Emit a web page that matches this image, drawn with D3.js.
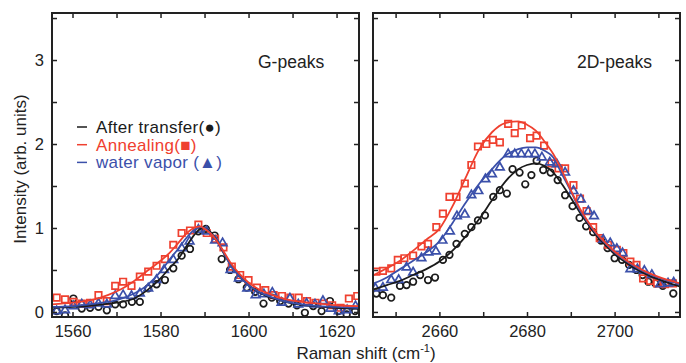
<!DOCTYPE html>
<html><head><meta charset="utf-8">
<script src="https://cdn.jsdelivr.net/npm/d3@7"></script>
<style>
html,body{margin:0;padding:0;background:#fff;}
svg text{font-family:"Liberation Sans",Arial,Helvetica,sans-serif;}
</style></head>
<body><svg id="c" width="686" height="363"></svg>
<script>
// ---------- data ----------
const seriesNames = ["After transfer", "Annealing", "water vapor"];
const legendSymbols = ["●", "■", "▲"];
const panelTitles = ["G-peaks", "2D-peaks"];

const gTicks = [1560,1570,1580,1590,1600,1610,1620];
const gTickLabels = [1560,1580,1600,1620];
const dTicks = [2650,2660,2670,2680,2690,2700,2710];
const dTickLabels = [2660,2680,2700];
const yTicks = [0,0.5,1,1.5,2,2.5,3,3.5];
const yTickLabels = [0,1,2,3];

// G-peak measured points [Raman shift, intensity]
const gBlackPts = [[1556.4,0.01],[1558.3,-0.04],[1560.2,0.16],[1562.1,0.04],[1564.0,0.05],[1565.9,0.06],[1567.8,0.02],[1569.7,0.09],[1571.5,0.09],[1573.5,0.12],[1575.3,0.12],[1577.2,0.28],[1579.1,0.33],[1581.0,0.38],[1582.9,0.52],[1584.8,0.67],[1586.7,0.75],[1588.6,0.96],[1590.3,0.99],[1592.3,0.91],[1593.9,0.63],[1595.8,0.50],[1597.7,0.39],[1599.6,0.29],[1601.5,0.24],[1603.4,0.10],[1605.3,0.17],[1607.2,0.13],[1609.1,0.10],[1611.0,0.08],[1612.8,-0.01],[1614.7,0.07],[1616.6,0.01],[1618.5,0.13],[1620.4,0.01],[1622.3,-0.03],[1624.2,0.01]];
const gRedPts = [[1556.4,0.17],[1558.3,0.15],[1560.2,0.12],[1562.1,0.10],[1564.0,0.11],[1565.9,0.20],[1567.8,0.13],[1569.7,0.31],[1571.5,0.36],[1573.4,0.31],[1575.3,0.42],[1577.2,0.48],[1579.1,0.55],[1581.0,0.63],[1582.9,0.80],[1584.8,0.94],[1586.7,0.97],[1588.6,1.04],[1590.5,0.94],[1592.4,0.87],[1594.3,0.77],[1596.2,0.54],[1598.1,0.44],[1600.0,0.38],[1601.9,0.29],[1603.8,0.26],[1605.7,0.20],[1607.6,0.19],[1609.5,0.17],[1611.4,0.17],[1613.3,0.13],[1615.2,0.11],[1617.1,0.10],[1619.0,0.08],[1620.9,0.05],[1622.8,0.16],[1624.7,0.19]];
const gBluePts = [[1556.4,0.02],[1558.3,0.03],[1560.2,0.08],[1562.1,0.10],[1564.0,0.09],[1565.9,0.11],[1567.8,0.10],[1569.7,0.20],[1571.5,0.21],[1573.4,0.20],[1575.3,0.23],[1577.2,0.29],[1579.1,0.39],[1580.8,0.51],[1582.9,0.63],[1584.8,0.77],[1586.6,0.85],[1588.6,0.99],[1590.5,0.97],[1592.4,0.86],[1594.1,0.83],[1595.9,0.51],[1597.8,0.41],[1599.7,0.29],[1601.6,0.21],[1603.5,0.22],[1605.4,0.24],[1607.5,0.12],[1609.4,0.17],[1611.3,0.10],[1613.2,0.11],[1615.1,0.10],[1616.9,0.14],[1618.6,0.05],[1620.5,0.02],[1622.4,0.03],[1624.3,0.08]];

// G-peak fitted curves
const gBlackFit = [[1555,0.05],[1560,0.06],[1565,0.08],[1570,0.11],[1574,0.16],[1577,0.26],[1580,0.40],[1582,0.52],[1584,0.63],[1586,0.79],[1588,0.94],[1589.5,1.0],[1591,0.97],[1593,0.83],[1595,0.64],[1597,0.49],[1599,0.37],[1601,0.28],[1604,0.19],[1607,0.14],[1610,0.10],[1615,0.07],[1620,0.05],[1625,0.04]];
const gRedFit = [[1555,0.09],[1560,0.11],[1565,0.15],[1568,0.20],[1571,0.27],[1574,0.37],[1577,0.49],[1580,0.61],[1582,0.70],[1584,0.82],[1586,0.94],[1588,1.01],[1589,1.02],[1590,0.99],[1592,0.90],[1594,0.75],[1596,0.58],[1598,0.45],[1600,0.35],[1602,0.28],[1605,0.21],[1608,0.16],[1612,0.12],[1616,0.10],[1620,0.08],[1625,0.07]];
const gBlueFit = [[1555,0.06],[1560,0.07],[1565,0.10],[1570,0.14],[1574,0.22],[1577,0.32],[1580,0.48],[1582,0.62],[1584,0.75],[1586,0.89],[1588,0.99],[1589,1.01],[1590,1.0],[1592,0.90],[1594,0.74],[1596,0.55],[1598,0.42],[1600,0.32],[1602,0.25],[1605,0.18],[1608,0.13],[1612,0.09],[1616,0.07],[1620,0.06],[1625,0.05]];

// 2D-peak measured points
const dBlackPts = [[2645.6,0.22],[2647.1,0.20],[2649.0,0.17],[2651.0,0.31],[2652.5,0.32],[2654.0,0.36],[2655.6,0.44],[2657.4,0.38],[2659.0,0.41],[2660.8,0.62],[2662.3,0.68],[2663.9,0.81],[2665.8,0.93],[2667.3,1.01],[2668.8,1.09],[2670.4,1.15],[2672.3,1.37],[2673.8,1.45],[2675.4,1.41],[2676.7,1.70],[2678.3,1.66],[2679.6,1.52],[2681.0,1.63],[2682.2,1.80],[2683.7,1.69],[2685.4,1.66],[2687.0,1.57],[2688.7,1.39],[2690.4,1.26],[2692.0,1.12],[2693.5,1.02],[2695.1,0.95],[2696.9,0.85],[2698.4,0.76],[2700.0,0.64],[2701.7,0.62],[2703.3,0.56],[2705.0,0.50],[2706.4,0.44],[2707.7,0.36],[2709.3,0.34],[2711.0,0.31],[2713.4,0.22]];
const dRedPts = [[2645.6,0.48],[2647.1,0.49],[2649.0,0.52],[2650.5,0.62],[2652.0,0.64],[2654.0,0.67],[2655.9,0.78],[2657.4,0.81],[2659.3,1.01],[2660.8,1.17],[2662.3,1.37],[2663.9,1.37],[2665.8,1.53],[2667.3,1.75],[2668.8,1.97],[2670.7,2.00],[2672.2,2.05],[2673.8,2.02],[2675.7,2.24],[2677.2,2.13],[2678.8,2.22],[2680.7,2.07],[2682.2,2.10],[2683.9,1.98],[2685.6,1.77],[2687.2,1.71],[2688.7,1.71],[2690.6,1.51],[2692.1,1.35],[2693.6,1.20],[2695.1,1.01],[2696.6,0.88],[2698.5,0.80],[2700.5,0.74],[2702.0,0.70],[2703.6,0.60],[2705.0,0.56],[2706.5,0.40],[2708.1,0.37],[2709.7,0.34],[2711.5,0.33],[2713.3,0.34]];
const dBluePts = [[2645.4,0.29],[2647.1,0.30],[2649.0,0.39],[2650.7,0.39],[2652.5,0.54],[2654.0,0.48],[2655.9,0.65],[2657.5,0.72],[2659.2,0.73],[2660.7,0.86],[2662.4,0.97],[2664.0,1.15],[2665.8,1.17],[2667.3,1.40],[2668.9,1.45],[2670.5,1.59],[2672.0,1.65],[2673.8,1.73],[2675.7,1.89],[2677.2,1.89],[2678.7,1.89],[2680.3,1.89],[2681.8,1.89],[2683.4,1.85],[2685.2,1.79],[2686.8,1.77],[2688.7,1.67],[2690.6,1.45],[2692.3,1.35],[2694.0,1.21],[2695.3,1.15],[2697.4,0.87],[2699.0,0.83],[2700.5,0.76],[2701.8,0.71],[2703.6,0.52],[2705.2,0.52],[2706.8,0.50],[2708.5,0.45],[2710.4,0.34],[2712.2,0.35],[2713.5,0.36]];

// 2D-peak fitted curves
const dBlackFit = [[2645,0.27],[2648,0.32],[2651,0.37],[2654,0.44],[2657,0.51],[2660,0.60],[2663,0.73],[2666,0.90],[2669,1.10],[2672,1.33],[2675,1.55],[2678,1.70],[2680,1.75],[2682,1.77],[2684,1.74],[2686,1.66],[2688,1.52],[2690,1.36],[2692,1.19],[2694,1.04],[2696,0.90],[2698,0.79],[2700,0.69],[2702,0.61],[2704,0.54],[2706,0.48],[2708,0.43],[2711,0.37],[2715,0.30]];
const dRedFit = [[2645,0.44],[2648,0.52],[2651,0.61],[2654,0.73],[2657,0.86],[2660,0.99],[2663,1.26],[2666,1.60],[2669,1.93],[2672,2.14],[2675,2.25],[2678,2.27],[2680,2.23],[2682,2.16],[2684,2.03],[2686,1.88],[2688,1.68],[2690,1.45],[2692,1.24],[2694,1.07],[2696,0.93],[2698,0.82],[2700,0.72],[2702,0.64],[2704,0.57],[2706,0.51],[2708,0.46],[2711,0.40],[2715,0.34]];
const dBlueFit = [[2645,0.34],[2648,0.41],[2651,0.51],[2654,0.61],[2657,0.71],[2660,0.84],[2663,1.06],[2666,1.30],[2669,1.52],[2672,1.70],[2675,1.86],[2678,1.94],[2680,1.96],[2682,1.96],[2684,1.92],[2686,1.84],[2688,1.64],[2690,1.44],[2692,1.22],[2694,1.06],[2696,0.92],[2698,0.81],[2700,0.71],[2702,0.63],[2704,0.56],[2706,0.50],[2708,0.45],[2711,0.39],[2715,0.33]];

// ---------- style ----------
const colors = ["#1b1b1b", "#ef402f", "#3b50aa"];
const svg = d3.select("#c");
const plotTop = 13, plotBottom = 317;
const y = d3.scaleLinear().domain([-0.06, 3.56]).range([plotBottom, plotTop]);

const panels = [
  {x0: 52, x1: 359, domain: [1555.34, 1625.1], ticks: gTicks, labels: gTickLabels, title: panelTitles[0], titleX: 258,
   pts: [gBlackPts, gRedPts, gBluePts], fits: [gBlackFit, gRedFit, gBlueFit], yLabels: true},
  {x0: 373, x1: 680, domain: [2644.84, 2714.93], ticks: dTicks, labels: dTickLabels, title: panelTitles[1], titleX: 577,
   pts: [dBlackPts, dRedPts, dBluePts], fits: [dBlackFit, dRedFit, dBlueFit], yLabels: false}
];

const sym = [d3.symbolCircle, d3.symbolSquare, d3.symbolTriangle];
const symSize = [34, 42, 32];

panels.forEach((p, i) => {
  const x = d3.scaleLinear().domain(p.domain).range([p.x0, p.x1]);
  const g = svg.append("g");
  const clipId = "clip" + i;
  svg.append("clipPath").attr("id", clipId).append("rect")
    .attr("x", p.x0).attr("y", plotTop).attr("width", p.x1 - p.x0).attr("height", plotBottom - plotTop);

  const plot = g.append("g").attr("clip-path", `url(#${clipId})`);
  p.pts.forEach((arr, k) => {
    plot.append("g").selectAll("path").data(arr).join("path")
      .attr("transform", d => `translate(${x(d[0])},${y(d[1]) + (k===2?0.8:0)})`)
      .attr("d", d3.symbol().type(sym[k]).size(symSize[k]))
      .attr("fill", "none").attr("stroke", colors[k]).attr("stroke-width", 1.7);
  });
  const line = d3.line().x(d => x(d[0])).y(d => y(d[1])).curve(d3.curveMonotoneX);
  [0, 2, 1].forEach(k => {
    plot.append("path").datum(p.fits[k]).attr("d", line)
      .attr("fill", "none").attr("stroke", colors[k]).attr("stroke-width", 1.8);
  });

  const fmtX = v => p.labels.includes(v) ? String(v) : "";
  const ax = g.append("g").attr("transform", `translate(0,${plotBottom})`)
    .call(d3.axisBottom(x).tickValues(p.ticks).tickSize(-5).tickPadding(8).tickFormat(fmtX));
  ax.selectAll("text").attr("font-size", 16.5).attr("fill", "#222");
  g.append("g").attr("transform", `translate(0,${plotTop})`)
    .call(d3.axisTop(x).tickValues(p.ticks).tickSize(-5).tickFormat(""));
  const fmtY = v => (p.yLabels && yTickLabels.includes(v)) ? String(v) : "";
  const ay = g.append("g").attr("transform", `translate(${p.x0},0)`)
    .call(d3.axisLeft(y).tickValues(yTicks).tickSize(-5).tickPadding(8).tickFormat(fmtY));
  ay.selectAll("text").attr("font-size", 16.5).attr("fill", "#222");
  g.append("g").attr("transform", `translate(${p.x1},0)`)
    .call(d3.axisRight(y).tickValues(yTicks).tickSize(-5).tickFormat(""));
  g.selectAll(".domain").remove();
  g.selectAll(".tick line").attr("stroke", "#222").attr("stroke-width", 1.5);

  g.append("rect").attr("x", p.x0).attr("y", plotTop).attr("width", p.x1 - p.x0).attr("height", plotBottom - plotTop)
    .attr("fill", "none").attr("stroke", "#222").attr("stroke-width", 2);

  g.append("text").attr("x", p.titleX).attr("y", 68).attr("font-size", 17.5).attr("fill", "#222").text(p.title);
});

const legend = svg.append("g");
seriesNames.forEach((name, k) => {
  const yy = 127 + k * 17.7;
  legend.append("line").attr("x1", 77).attr("x2", 87).attr("y1", yy).attr("y2", yy)
    .attr("stroke", colors[k]).attr("stroke-width", 1.5);
  legend.append("text").attr("x", 96).attr("y", yy + 6).attr("font-size", 17)
    .attr("letter-spacing", 0.3).attr("fill", colors[k])
    .text(name + (k === 2 ? " (" : "(") + legendSymbols[k] + ")");
});

svg.append("text").attr("transform", "translate(26,169) rotate(-90)").attr("text-anchor", "middle")
  .attr("font-size", 17).attr("fill", "#222").text("Intensity (arb. units)");
const xt = svg.append("text").attr("x", 366).attr("y", 359).attr("text-anchor", "middle")
  .attr("font-size", 17).attr("fill", "#222");
xt.append("tspan").text("Raman shift (cm");
xt.append("tspan").attr("font-size", 11).attr("dy", -7).text("-1");
xt.append("tspan").attr("dy", 7).text(")");
</script></body></html>
